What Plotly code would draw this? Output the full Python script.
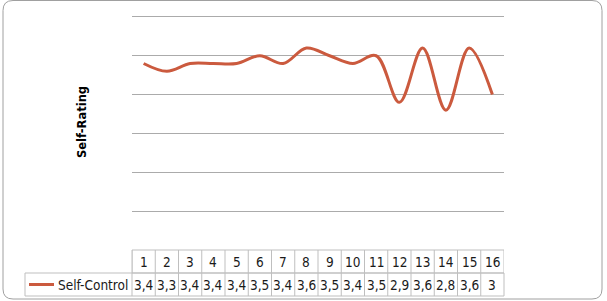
import plotly.graph_objects as go

categories = list(range(1, 17))
self_control = [3.4, 3.3, 3.4, 3.4, 3.4, 3.5, 3.4, 3.6, 3.5, 3.4, 3.5, 2.9, 3.6, 2.8, 3.6, 3.0]
series_name = "Self-Control"
axis_title = "Self-Rating"

W, H = 607, 301
LINE_COLOR = "#CB5A3E"
GRID = "#ABABAB"
BORDER = "#BFBFBF"
FONT = "DejaVu Sans Condensed, DejaVu Sans"
TXT = "#1A1A1A"

def px_x(p):
    return p / W

def px_y(p):
    return (H - p) / H

plot_left, plot_right = 132, 504
plot_bottom = 250
unit_px = 77.7  # pixels per rating unit
y_min, y_max = 1, 4.2
plot_top = plot_bottom - (y_max - y_min) * unit_px
row1_bottom = 273
row2_bottom = 296
legend_left = 25

fig = go.Figure()
fig.add_trace(go.Scatter(
    x=categories, y=self_control, mode="lines",
    line=dict(color=LINE_COLOR, width=3, shape="spline", smoothing=1.0),
    name=series_name, showlegend=False, hoverinfo="skip",
))

shapes = []
r = 10
x0, x1, y0, y1 = 3, 602, 0.5, 299
def P(x, y):
    return f"{px_x(x)},{px_y(y)}"
path = (f"M {P(x0+r,y0)} L {P(x1-r,y0)} Q {P(x1,y0)} {P(x1,y0+r)} L {P(x1,y1-r)} "
        f"Q {P(x1,y1)} {P(x1-r,y1)} L {P(x0+r,y1)} Q {P(x0,y1)} {P(x0,y1-r)} "
        f"L {P(x0,y0+r)} Q {P(x0,y0)} {P(x0+r,y0)} Z")
shapes.append(dict(type="path", xref="paper", yref="paper", path=path,
                   line=dict(color="#A0A0A0", width=1), layer="below"))

shapes.append(dict(type="rect", xref="x", yref="paper",
                   x0=categories[0] - 0.5, x1=categories[-1] + 0.5,
                   y0=px_y(row1_bottom), y1=px_y(plot_bottom),
                   line=dict(color=BORDER, width=1)))
shapes.append(dict(type="rect", xref="paper", yref="paper",
                   x0=px_x(legend_left), x1=px_x(plot_right),
                   y0=px_y(row2_bottom), y1=px_y(row1_bottom),
                   line=dict(color=BORDER, width=1)))
for c in categories[:-1]:
    shapes.append(dict(type="line", xref="x", yref="paper",
                       x0=c + 0.5, x1=c + 0.5,
                       y0=px_y(row2_bottom), y1=px_y(plot_bottom),
                       line=dict(color=BORDER, width=1)))
shapes.append(dict(type="line", xref="paper", yref="paper",
                   x0=px_x(plot_left), x1=px_x(plot_left),
                   y0=px_y(row2_bottom), y1=px_y(plot_bottom),
                   line=dict(color=BORDER, width=1)))
shapes.append(dict(type="line", xref="paper", yref="paper",
                   x0=px_x(29), x1=px_x(54), y0=px_y(284.5), y1=px_y(284.5),
                   line=dict(color=LINE_COLOR, width=3)))

annotations = []
def fmt(v):
    s = f"{v:g}"
    return s.replace(".", ",")

FS = 13.5
for c, v in zip(categories, self_control):
    annotations.append(dict(x=c, y=px_y((plot_bottom + row1_bottom) / 2), xref="x", yref="paper",
                            text=str(c), showarrow=False, xanchor="center", yanchor="middle",
                            font=dict(family=FONT, size=FS, color=TXT)))
    annotations.append(dict(x=c, y=px_y((row1_bottom + row2_bottom) / 2), xref="x", yref="paper",
                            text=fmt(v), showarrow=False, xanchor="center", yanchor="middle",
                            font=dict(family=FONT, size=FS, color=TXT)))
annotations.append(dict(x=px_x(55.5), y=px_y((row1_bottom + row2_bottom) / 2), xref="paper", yref="paper",
                        text=series_name, showarrow=False, xanchor="left", yanchor="middle",
                        font=dict(family=FONT, size=FS, color=TXT)))
annotations.append(dict(x=px_x(82), y=px_y(122), xref="paper", yref="paper",
                        text=f"<b>{axis_title}</b>", textangle=-90, showarrow=False,
                        xanchor="center", yanchor="middle",
                        font=dict(family="DejaVu Sans", size=11.5, color="#000000")))

fig.update_layout(
    width=W, height=H, margin=dict(l=0, r=0, t=0, b=0),
    paper_bgcolor="white", plot_bgcolor="white",
    xaxis=dict(domain=[px_x(plot_left), px_x(plot_right)], range=[0.5, 16.5],
               showgrid=False, zeroline=False, showticklabels=False, ticks="",
               showline=False, fixedrange=True),
    yaxis=dict(domain=[px_y(plot_bottom), px_y(plot_top)], range=[y_min, y_max],
               tickvals=[1, 1.5, 2, 2.5, 3, 3.5, 4], showgrid=True, gridcolor=GRID, gridwidth=1,
               zeroline=False, showticklabels=False, ticks="", showline=False,
               fixedrange=True),
    shapes=shapes, annotations=annotations, showlegend=False,
)

fig.write_html("out.html")
